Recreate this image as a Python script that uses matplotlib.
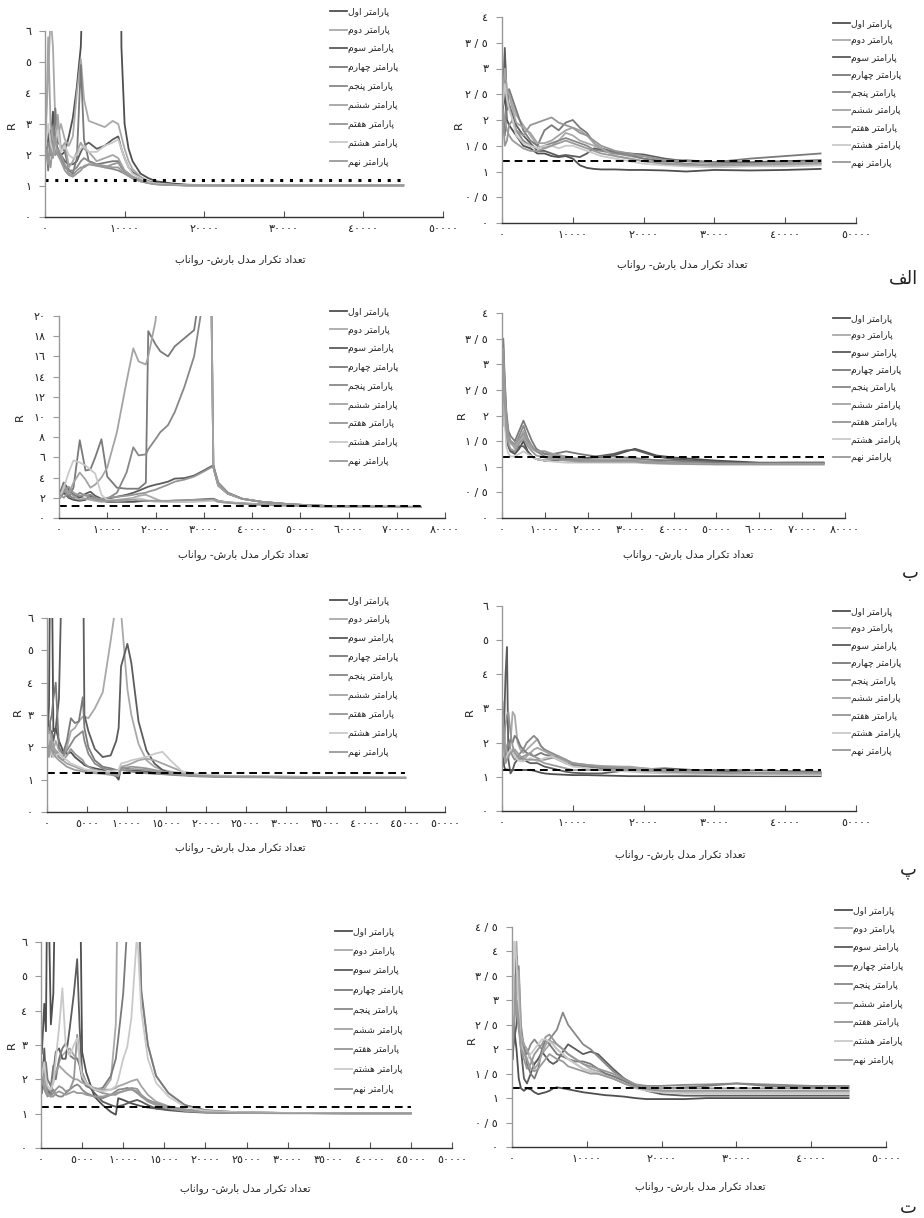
import matplotlib
matplotlib.use("Agg")
import matplotlib.pyplot as plt

plt.rcParams['font.family'] = ['DejaVu Sans']

# ---- data ----
LEGEND = ['پارامتر اول', 'پارامتر دوم', 'پارامتر سوم', 'پارامتر چهارم', 'پارامتر پنجم',
          'پارامتر ششم', 'پارامتر هفتم', 'پارامتر هشتم', 'پارامتر نهم']
XLABEL = 'تعداد تکرار مدل بارش- رواناب'
YLABEL = 'R'
PANEL_TAGS = ['الف', 'ب', 'پ', 'ت']
REF_R = 1.2

# panel 1 (الف, left)
p1_x = [100, 400, 700, 1000, 1300, 1600, 2000, 2500, 3000, 3500, 4000, 4500, 4900, 5500, 6500, 7500,
        8500, 9200, 9600, 10000, 10500, 11000, 12000, 13000, 14000, 16000, 18000, 22000, 30000, 38000, 45000]
p1_y = [
    [2.2, 2.8, 2.4, 3.4, 2.5, 2.2, 2.0, 2.1, 2.6, 3.2, 4.2, 5.5, 9, 30, 30, 30, 30, 30, 5.5, 3.0, 2.2, 1.8, 1.4, 1.25, 1.15, 1.08, 1.04, 1.02, 1.02, 1.03, 1.03],
    [3.0, 4.5, 6.5, 5.5, 3.0, 2.6, 3.0, 2.5, 2.3, 2.6, 4.0, 5.1, 3.8, 3.1, 3.0, 2.9, 3.1, 3.0, 2.6, 2.2, 1.8, 1.55, 1.3, 1.15, 1.08, 1.04, 1.02, 1.01, 1.02, 1.02, 1.02],
    [2.1, 2.6, 2.0, 2.6, 2.3, 2.2, 2.0, 1.8, 1.7, 1.7, 1.8, 2.1, 2.3, 2.4, 2.2, 2.3, 2.5, 2.6, 2.2, 1.9, 1.6, 1.45, 1.25, 1.15, 1.1, 1.05, 1.03, 1.02, 1.02, 1.02, 1.02],
    [2.5, 1.5, 2.8, 2.0, 3.5, 2.4, 2.3, 2.1, 1.5, 1.4, 1.9, 4.9, 2.5, 1.8, 1.7, 1.75, 1.8, 1.8, 1.6, 1.5, 1.4, 1.3, 1.2, 1.12, 1.07, 1.04, 1.02, 1.02, 1.02, 1.02, 1.02],
    [2.0, 2.4, 2.2, 2.9, 2.0, 2.1, 1.9, 1.6, 1.5, 1.5, 1.6, 1.8, 1.9, 1.8, 1.7, 1.6, 1.55, 1.5, 1.45, 1.4, 1.33, 1.25, 1.15, 1.1, 1.06, 1.04, 1.02, 1.02, 1.02, 1.02, 1.02],
    [2.4, 5.8, 3.0, 2.5, 2.3, 3.3, 2.2, 2.4, 1.6, 1.8, 2.1, 2.4, 2.2, 2.1, 1.8, 1.9, 2.0, 1.9, 1.7, 1.5, 1.4, 1.3, 1.18, 1.1, 1.06, 1.03, 1.02, 1.02, 1.02, 1.02, 1.02],
    [2.2, 2.0, 1.6, 2.4, 2.0, 2.2, 2.0, 1.7, 1.4, 1.35, 1.5, 1.6, 1.6, 1.7, 1.65, 1.6, 1.7, 1.75, 1.6, 1.45, 1.35, 1.27, 1.17, 1.1, 1.06, 1.03, 1.02, 1.02, 1.02, 1.02, 1.02],
    [2.3, 3.0, 2.4, 2.0, 2.3, 2.8, 2.1, 2.3, 2.0, 1.9, 2.0, 2.2, 2.3, 2.1, 2.1, 2.3, 2.4, 2.5, 2.2, 1.9, 1.6, 1.4, 1.25, 1.13, 1.08, 1.04, 1.02, 1.02, 1.02, 1.02, 1.02],
    [2.1, 1.7, 2.2, 1.9, 2.6, 2.0, 1.8, 1.5, 1.35, 1.3, 1.4, 1.5, 1.65, 1.7, 1.7, 1.65, 1.6, 1.6, 1.5, 1.4, 1.32, 1.25, 1.15, 1.09, 1.05, 1.03, 1.02, 1.02, 1.02, 1.02, 1.02],
]

# panel 2 (الف, right)
p2_x = [100, 400, 700, 1000, 1500, 2000, 3000, 4000, 5000, 6000, 7000, 8000, 9000, 10000, 11000, 12000,
        13000, 14000, 16000, 18000, 20000, 23000, 26000, 30000, 35000, 40000, 45000]
p2_y = [
    [2.2, 2.5, 2.0, 1.9, 1.8, 1.7, 1.5, 1.45, 1.35, 1.35, 1.3, 1.28, 1.3, 1.25, 1.12, 1.07, 1.05, 1.04, 1.04, 1.03, 1.03, 1.02, 1.0, 1.03, 1.02, 1.03, 1.05],
    [2.6, 3.3, 2.4, 2.5, 2.3, 2.1, 1.9, 1.7, 1.5, 1.45, 1.5, 1.6, 1.75, 1.7, 1.6, 1.55, 1.5, 1.45, 1.35, 1.3, 1.25, 1.18, 1.12, 1.1, 1.12, 1.12, 1.14],
    [2.0, 3.4, 2.2, 2.3, 2.1, 1.9, 1.7, 1.55, 1.4, 1.4, 1.35, 1.3, 1.32, 1.3, 1.28, 1.35, 1.45, 1.42, 1.38, 1.35, 1.33, 1.25, 1.2, 1.18, 1.18, 1.2, 1.22],
    [2.4, 1.7, 2.3, 2.6, 2.4, 2.2, 1.8, 1.6, 1.5, 1.8, 1.9, 1.8, 1.95, 2.0, 1.85, 1.75, 1.55, 1.45, 1.38, 1.32, 1.25, 1.2, 1.22, 1.18, 1.25, 1.3, 1.35],
    [2.3, 2.6, 2.5, 2.3, 2.0, 1.8, 1.6, 1.5, 1.45, 1.5, 1.55, 1.6, 1.65, 1.6, 1.55, 1.5, 1.42, 1.4, 1.35, 1.32, 1.3, 1.22, 1.15, 1.13, 1.15, 1.18, 1.2],
    [2.5, 3.0, 2.6, 2.5, 2.2, 1.95, 1.85, 1.75, 1.55, 1.55, 1.6, 1.7, 1.8, 1.85, 1.8, 1.7, 1.55, 1.45, 1.3, 1.25, 1.2, 1.15, 1.12, 1.1, 1.12, 1.13, 1.15],
    [2.1, 1.5, 1.6, 1.9, 2.0, 1.8, 1.7, 1.9, 1.95, 2.0, 2.05, 1.95, 1.9, 1.85, 1.75, 1.7, 1.6, 1.5, 1.4, 1.35, 1.3, 1.22, 1.2, 1.16, 1.15, 1.17, 1.2],
    [2.3, 2.7, 2.4, 2.2, 2.0, 1.7, 1.55, 1.5, 1.45, 1.5, 1.5, 1.45, 1.5, 1.5, 1.45, 1.4, 1.35, 1.3, 1.25, 1.2, 1.15, 1.12, 1.1, 1.08, 1.1, 1.1, 1.12],
    [2.2, 2.0, 1.8, 1.7, 1.6, 1.55, 1.45, 1.4, 1.4, 1.45, 1.5, 1.55, 1.6, 1.55, 1.5, 1.45, 1.4, 1.35, 1.3, 1.25, 1.2, 1.15, 1.13, 1.12, 1.13, 1.15, 1.17],
]

# panel 3 (ب, left)
p3_x = [200, 1000, 2000, 3000, 4300, 5500, 6500, 7500, 8800, 10000, 12000, 14000, 15400, 16500, 18000, 18500,
        20000, 21000, 22600, 24000, 26000, 28000, 30000, 31500, 32000, 33000, 35000, 38000, 42000, 48000,
        55000, 65000, 75000]
p3_y = [
    [2.0, 2.5, 2.0, 1.8, 1.7, 1.8, 2.2, 1.9, 1.7, 1.6, 1.6, 1.6, 1.6, 1.65, 1.7, 1.7, 1.7, 1.7, 1.65, 1.7, 1.75, 1.8, 1.85, 1.9, 1.9, 1.7, 1.55, 1.45, 1.35, 1.25, 1.15, 1.1, 1.08],
    [2.5, 3.0, 2.2, 2.0, 2.1, 1.9, 1.8, 1.7, 1.6, 1.7, 1.8, 1.9, 2.0, 2.2, 2.3, 2.2, 1.9, 1.7, 1.6, 1.6, 1.6, 1.65, 1.7, 1.75, 1.8, 1.7, 1.55, 1.45, 1.35, 1.25, 1.15, 1.1, 1.08],
    [2.5, 3.5, 2.8, 2.3, 2.0, 2.4, 2.6, 2.2, 1.9, 1.9, 2.1, 2.3, 2.5, 2.7, 3.0, 3.1, 3.3, 3.4, 3.6, 3.9, 3.95, 4.2, 4.7, 5.1, 5.2, 3.5, 2.5, 1.9, 1.6, 1.35, 1.2, 1.12, 1.1],
    [2.2, 3.5, 2.0, 3.0, 7.7, 4.7, 4.8, 6.0, 7.8, 4.1, 3.0, 2.9, 2.9, 2.9, 3.5, 18.5, 17.2, 16.5, 16.0, 17.0, 17.8, 18.6, 25, 25, 5.0, 3.2, 2.4, 1.9, 1.6, 1.35, 1.2, 1.12, 1.1],
    [2.0, 2.8, 2.3, 1.9, 2.5, 2.2, 2.3, 2.0, 1.8, 1.9, 2.5, 4.5, 7.0, 6.2, 6.3, 6.8, 7.8, 8.5, 9.2, 10.5, 13.0, 16.0, 22, 25, 5.0, 3.2, 2.4, 1.9, 1.6, 1.35, 1.2, 1.12, 1.1],
    [2.0, 3.2, 2.4, 3.5, 4.5, 3.8, 3.0, 3.3, 4.0, 5.0, 8.5, 13.5, 16.8, 15.5, 15.2, 16.0, 19.5, 25, 25, 25, 25, 25, 25, 25, 5.0, 3.2, 2.4, 1.9, 1.6, 1.35, 1.2, 1.12, 1.1],
    [2.1, 2.6, 3.1, 2.5, 2.2, 2.3, 2.0, 1.9, 1.9, 2.0, 2.1, 2.2, 2.3, 2.4, 2.5, 2.6, 2.8, 3.0, 3.3, 3.6, 3.8, 4.1, 4.6, 5.0, 5.1, 3.5, 2.5, 1.9, 1.6, 1.35, 1.2, 1.12, 1.1],
    [2.2, 3.0, 4.5, 5.7, 5.5, 5.2, 4.8, 4.4, 2.3, 1.8, 1.7, 1.75, 1.9, 1.95, 1.8, 1.7, 1.6, 1.6, 1.6, 1.6, 1.6, 1.6, 1.65, 1.7, 1.7, 1.6, 1.5, 1.4, 1.3, 1.2, 1.12, 1.08, 1.06],
    [2.3, 2.0, 2.6, 2.2, 1.8, 1.9, 2.0, 1.8, 1.7, 1.7, 1.75, 1.8, 1.8, 1.75, 1.7, 1.7, 1.7, 1.7, 1.7, 1.75, 1.75, 1.8, 1.8, 1.85, 1.85, 1.6, 1.5, 1.4, 1.3, 1.22, 1.14, 1.1, 1.08],
]

# panel 4 (ب, right)
p4_x = [100, 300, 600, 1000, 1500, 2000, 3000, 4000, 5000, 6000, 7000, 8000, 10000, 12000, 15000, 18000,
        22000, 26000, 29000, 31000, 33000, 36000, 40000, 45000, 50000, 55000, 60000, 67000, 75000]
p4_y = [
    [2.0, 3.0, 2.3, 1.5, 1.4, 1.3, 1.25, 1.35, 1.5, 1.3, 1.2, 1.15, 1.12, 1.12, 1.15, 1.15, 1.18, 1.22, 1.3, 1.35, 1.3, 1.22, 1.18, 1.15, 1.12, 1.1, 1.08, 1.08, 1.08],
    [2.3, 3.4, 2.6, 2.0, 1.6, 1.5, 1.35, 1.5, 1.6, 1.45, 1.35, 1.3, 1.25, 1.2, 1.18, 1.15, 1.15, 1.15, 1.15, 1.15, 1.14, 1.13, 1.12, 1.1, 1.08, 1.07, 1.06, 1.06, 1.06],
    [1.8, 2.8, 2.2, 1.6, 1.4, 1.3, 1.3, 1.4, 1.4, 1.3, 1.2, 1.15, 1.12, 1.12, 1.14, 1.15, 1.2, 1.25, 1.32, 1.33, 1.28, 1.2, 1.15, 1.12, 1.1, 1.08, 1.07, 1.07, 1.07],
    [2.5, 3.5, 2.8, 2.1, 1.7, 1.6, 1.5, 1.7, 1.9, 1.7, 1.5, 1.35, 1.25, 1.25, 1.3, 1.25, 1.2, 1.2, 1.18, 1.17, 1.15, 1.13, 1.12, 1.1, 1.08, 1.07, 1.07, 1.08, 1.08],
    [2.2, 3.2, 2.5, 1.9, 1.6, 1.5, 1.4, 1.6, 1.8, 1.55, 1.4, 1.3, 1.2, 1.18, 1.15, 1.12, 1.12, 1.12, 1.12, 1.12, 1.1, 1.1, 1.08, 1.08, 1.06, 1.06, 1.05, 1.05, 1.05],
    [2.1, 3.0, 2.4, 1.8, 1.5, 1.45, 1.4, 1.5, 1.7, 1.5, 1.35, 1.3, 1.3, 1.25, 1.2, 1.15, 1.12, 1.1, 1.1, 1.1, 1.1, 1.08, 1.07, 1.06, 1.05, 1.05, 1.05, 1.05, 1.05],
    [2.4, 3.3, 2.7, 2.0, 1.6, 1.5, 1.45, 1.55, 1.65, 1.5, 1.4, 1.3, 1.3, 1.22, 1.18, 1.15, 1.12, 1.1, 1.1, 1.1, 1.1, 1.08, 1.07, 1.06, 1.05, 1.05, 1.05, 1.05, 1.05],
    [1.9, 2.6, 2.0, 1.4, 1.25, 1.2, 1.2, 1.25, 1.3, 1.25, 1.2, 1.15, 1.12, 1.1, 1.08, 1.08, 1.08, 1.08, 1.08, 1.08, 1.07, 1.06, 1.05, 1.05, 1.04, 1.04, 1.04, 1.04, 1.04],
    [2.0, 2.9, 2.3, 1.7, 1.45, 1.35, 1.3, 1.45, 1.55, 1.4, 1.3, 1.22, 1.18, 1.15, 1.12, 1.1, 1.1, 1.1, 1.1, 1.1, 1.08, 1.07, 1.06, 1.05, 1.05, 1.05, 1.05, 1.05, 1.05],
]

# panel 5 (پ, left)
p5_x = [100, 250, 400, 600, 800, 1100, 1500, 2000, 2500, 3000, 3500, 4000, 4500, 4700, 5200, 6000, 7000,
        8000, 8700, 9000, 9300, 10100, 10600, 11500, 12500, 13500, 14500, 15500, 17000, 19000, 22000,
        28000, 36000, 45000]
p5_y = [
    [2.5, 3.3, 8, 8, 2.5, 2.6, 2.2, 1.9, 1.8, 1.85, 1.7, 1.6, 1.5, 1.45, 1.4, 1.35, 1.3, 1.2, 1.1, 1.0, 1.4, 1.35, 1.3, 1.28, 1.25, 1.22, 1.2, 1.18, 1.15, 1.12, 1.1, 1.08, 1.07, 1.06],
    [2.3, 1.8, 2.7, 2.0, 1.9, 2.2, 1.9, 1.8, 2.0, 2.5, 2.6, 2.8, 2.95, 2.95, 2.9, 3.2, 3.7, 5.3, 6.5, 8, 6.2, 3.8, 3.0, 2.1, 1.6, 1.4, 1.3, 1.25, 1.2, 1.15, 1.12, 1.1, 1.08, 1.07],
    [2.0, 2.6, 2.2, 2.5, 2.2, 2.6, 3.5, 9, 9, 9, 9, 9, 9, 3.0, 2.5, 1.95, 1.7, 1.75, 2.2, 2.6, 4.5, 5.2, 4.6, 2.8, 1.9, 1.5, 1.3, 1.2, 1.15, 1.12, 1.1, 1.08, 1.06, 1.05],
    [2.2, 2.0, 2.8, 3.0, 3.5, 4.0, 2.0, 1.8, 2.2, 2.9, 2.75, 2.8, 3.55, 2.6, 2.0, 1.6, 1.4, 1.35, 1.3, 1.3, 1.3, 1.28, 1.26, 1.24, 1.22, 1.2, 1.2, 1.18, 1.15, 1.12, 1.1, 1.08, 1.06, 1.05],
    [2.0, 2.3, 1.9, 2.4, 2.0, 1.9, 1.8, 1.7, 1.9, 2.1, 2.3, 2.4, 2.5, 2.2, 1.8, 1.5, 1.35, 1.3, 1.3, 1.3, 1.3, 1.28, 1.25, 1.22, 1.2, 1.18, 1.17, 1.15, 1.13, 1.1, 1.08, 1.07, 1.06, 1.05],
    [2.6, 2.0, 2.5, 2.2, 2.0, 1.9, 1.7, 1.6, 1.5, 1.45, 1.4, 1.35, 1.3, 1.3, 1.28, 1.25, 1.22, 1.2, 1.2, 1.2, 1.4, 1.45, 1.5, 1.6, 1.65, 1.6, 1.5, 1.4, 1.25, 1.15, 1.1, 1.08, 1.06, 1.05],
    [1.8, 2.2, 2.0, 1.7, 1.9, 1.8, 1.7, 1.6, 1.75, 1.95, 1.8, 1.7, 1.6, 1.5, 1.4, 1.3, 1.25, 1.2, 1.15, 1.15, 1.35, 1.38, 1.4, 1.38, 1.35, 1.3, 1.25, 1.2, 1.15, 1.12, 1.1, 1.08, 1.06, 1.05],
    [2.1, 2.4, 2.0, 1.8, 1.7, 1.75, 1.8, 1.7, 1.6, 1.5, 1.45, 1.4, 1.35, 1.32, 1.3, 1.28, 1.25, 1.25, 1.28, 1.3, 1.5, 1.55, 1.6, 1.65, 1.7, 1.8, 1.86, 1.6, 1.25, 1.18, 1.12, 1.1, 1.07, 1.06],
    [2.0, 1.7, 2.2, 1.9, 1.8, 1.7, 1.6, 1.5, 1.4, 1.35, 1.3, 1.28, 1.25, 1.25, 1.22, 1.2, 1.18, 1.15, 1.12, 1.12, 1.3, 1.32, 1.33, 1.32, 1.3, 1.27, 1.25, 1.2, 1.15, 1.12, 1.1, 1.08, 1.06, 1.05],
]

# panel 6 (پ, right)
p6_x = [100, 300, 500, 700, 900, 1200, 1500, 1800, 2200, 2600, 3000, 3500, 4000, 4500, 5000, 5500, 6000,
        7000, 8000, 9000, 10000, 12000, 14000, 16000, 18000, 20000, 23000, 27000, 32000, 38000, 45000]
p6_y = [
    [1.8, 1.3, 1.2, 1.22, 1.2, 1.2, 1.2, 1.2, 1.2, 1.2, 1.2, 1.2, 1.2, 1.18, 1.15, 1.12, 1.1, 1.08, 1.07, 1.06, 1.05, 1.05, 1.04, 1.03, 1.02, 1.02, 1.02, 1.02, 1.02, 1.02, 1.02],
    [3.2, 2.5, 1.8, 1.5, 1.6, 2.0, 2.9, 2.8, 2.0, 1.8, 1.7, 1.8, 1.9, 2.0, 2.1, 1.9, 1.8, 1.6, 1.5, 1.4, 1.35, 1.3, 1.3, 1.3, 1.3, 1.25, 1.2, 1.15, 1.12, 1.1, 1.1],
    [1.5, 2.5, 4.0, 4.8, 1.5, 1.1, 1.2, 1.4, 1.5, 1.55, 1.5, 1.45, 1.4, 1.4, 1.4, 1.35, 1.3, 1.25, 1.2, 1.15, 1.12, 1.1, 1.1, 1.15, 1.2, 1.22, 1.25, 1.2, 1.15, 1.1, 1.1],
    [2.2, 2.0, 1.6, 1.8, 1.9, 2.1, 2.0, 2.2, 2.1, 1.9, 1.8, 1.7, 1.65, 1.6, 1.65, 1.7, 1.65, 1.6, 1.5, 1.4, 1.35, 1.3, 1.25, 1.25, 1.2, 1.2, 1.2, 1.2, 1.2, 1.18, 1.15],
    [2.5, 1.9, 1.7, 1.9, 2.0, 1.8, 1.6, 1.5, 1.6, 1.7, 1.8, 2.0, 2.1, 2.2, 2.1, 1.9, 1.8, 1.7, 1.6, 1.5, 1.4, 1.32, 1.28, 1.25, 1.2, 1.18, 1.15, 1.12, 1.1, 1.08, 1.08],
    [2.8, 2.2, 1.9, 1.7, 1.6, 1.7, 1.8, 1.7, 1.6, 1.5, 1.5, 1.6, 1.7, 1.8, 1.85, 1.8, 1.75, 1.65, 1.55, 1.45, 1.4, 1.35, 1.32, 1.3, 1.28, 1.25, 1.2, 1.15, 1.1, 1.08, 1.07],
    [2.6, 2.1, 2.5, 2.8, 2.9, 2.3, 1.9, 1.7, 1.6, 1.55, 1.6, 1.65, 1.7, 1.6, 1.55, 1.5, 1.5, 1.55, 1.6, 1.5, 1.4, 1.35, 1.3, 1.28, 1.25, 1.2, 1.18, 1.15, 1.12, 1.1, 1.1],
    [2.0, 1.6, 1.5, 1.6, 1.7, 1.8, 1.7, 1.6, 1.5, 1.45, 1.45, 1.5, 1.55, 1.5, 1.45, 1.5, 1.55, 1.6, 1.5, 1.4, 1.3, 1.25, 1.2, 1.18, 1.15, 1.12, 1.1, 1.08, 1.06, 1.05, 1.05],
    [2.3, 1.8, 1.4, 1.5, 1.6, 1.7, 1.75, 1.8, 1.7, 1.6, 1.55, 1.5, 1.5, 1.5, 1.5, 1.45, 1.4, 1.35, 1.3, 1.25, 1.2, 1.2, 1.2, 1.2, 1.2, 1.18, 1.15, 1.12, 1.1, 1.1, 1.1],
]

# panel 7 (ت, left)
p7_x = [100, 400, 600, 800, 1200, 1500, 1800, 2200, 2600, 3000, 3500, 4000, 4400, 4700, 5000, 5500, 6500,
        7500, 8500, 9100, 9400, 10000, 10500, 11000, 11700, 12200, 13000, 14000, 15500, 17500, 20000,
        24000, 30000, 38000, 45000]
p7_y = [
    [2.75, 4.2, 3.4, 9, 3.6, 4.5, 9, 9, 9, 9, 9, 9, 9, 9, 2.8, 2.2, 1.5, 1.25, 1.05, 0.97, 1.45, 1.4, 1.35, 1.3, 1.25, 1.22, 1.18, 1.15, 1.12, 1.08, 1.05, 1.03, 1.02, 1.02, 1.02],
    [2.5, 2.2, 1.8, 1.6, 1.7, 1.9, 2.2, 2.5, 2.7, 2.8, 2.9, 2.7, 2.6, 2.5, 2.1, 1.9, 1.7, 1.65, 2.0, 3.6, 9, 9, 9, 9, 9, 4.5, 3.0, 2.1, 1.6, 1.25, 1.1, 1.04, 1.02, 1.01, 1.01],
    [1.6, 2.9, 2.0, 1.7, 1.5, 2.2, 2.8, 2.9, 2.6, 2.6, 3.5, 4.5, 5.5, 3.5, 2.2, 1.9, 1.6, 1.35, 1.25, 1.2, 1.22, 1.25, 1.3, 1.35, 1.4, 1.35, 1.25, 1.15, 1.1, 1.06, 1.03, 1.02, 1.02, 1.02, 1.02],
    [2.3, 1.9, 2.5, 2.0, 1.8, 2.4, 2.0, 2.6, 2.9, 3.05, 2.7, 2.6, 2.6, 2.4, 2.0, 1.8, 1.7, 1.75, 2.1, 2.6, 3.2, 4.5, 6.5, 9, 9, 4.6, 3.0, 2.1, 1.6, 1.25, 1.1, 1.04, 1.02, 1.01, 1.01],
    [2.0, 1.7, 1.6, 1.5, 1.6, 1.7, 1.55, 1.5, 1.5, 1.6, 1.7, 1.8, 1.85, 1.8, 1.7, 1.6, 1.5, 1.45, 1.55, 1.65, 1.7, 1.72, 1.75, 1.72, 1.6, 1.5, 1.4, 1.3, 1.2, 1.12, 1.06, 1.03, 1.02, 1.01, 1.01],
    [2.2, 2.0, 1.8, 1.7, 1.7, 2.0, 2.2, 2.4, 2.3, 2.2, 2.1, 2.0, 2.0, 1.95, 1.9, 1.85, 1.75, 1.7, 1.7, 1.75, 1.8, 1.85, 1.9, 1.95, 2.0, 1.8, 1.55, 1.35, 1.22, 1.12, 1.06, 1.03, 1.02, 1.01, 1.01],
    [1.9, 2.4, 2.0, 1.6, 1.5, 1.6, 1.7, 1.8, 1.75, 1.65, 1.7, 2.0, 3.3, 2.6, 2.2, 1.9, 1.7, 1.6, 1.55, 1.55, 1.6, 1.65, 1.7, 1.75, 1.72, 1.55, 1.4, 1.3, 1.2, 1.12, 1.06, 1.03, 1.02, 1.01, 1.01],
    [2.1, 2.5, 2.0, 1.8, 1.7, 1.9, 2.6, 3.5, 4.65, 3.0, 2.7, 3.0, 3.2, 2.5, 2.1, 1.9, 1.7, 1.65, 1.7, 1.8, 2.0, 2.6, 2.95, 3.8, 6.3, 4.0, 2.6, 1.9, 1.5, 1.2, 1.08, 1.04, 1.02, 1.01, 1.01],
    [2.0, 1.8, 1.6, 1.55, 1.5, 1.5, 1.6, 1.65, 1.6, 1.55, 1.6, 1.65, 1.6, 1.6, 1.6, 1.55, 1.5, 1.5, 1.55, 1.6, 1.62, 1.65, 1.68, 1.7, 1.65, 1.5, 1.35, 1.25, 1.15, 1.08, 1.04, 1.02, 1.01, 1.01, 1.01],
]

# panel 8 (ت, right)
p8_x = [100, 300, 600, 900, 1200, 1600, 2000, 2500, 3000, 3500, 4000, 4500, 5000, 5500, 6000, 6800, 7500,
        8500, 9500, 10500, 11500, 12500, 13500, 15000, 16500, 18000, 20000, 23000, 26000, 30000, 34000,
        40000, 45000]
p8_y = [
    [1.8, 2.4, 2.0, 1.4, 1.2, 1.15, 1.2, 1.18, 1.12, 1.08, 1.1, 1.12, 1.15, 1.2, 1.22, 1.2, 1.18, 1.15, 1.12, 1.1, 1.08, 1.06, 1.05, 1.03, 1.0, 0.98, 0.98, 0.98, 1.0, 1.0, 1.0, 1.0, 1.0],
    [2.2, 2.8, 4.2, 3.0, 2.2, 1.9, 2.0, 1.8, 1.7, 1.8, 1.9, 2.0, 2.1, 2.15, 2.1, 2.0, 1.9, 1.8, 1.7, 1.6, 1.55, 1.5, 1.45, 1.35, 1.25, 1.18, 1.15, 1.12, 1.1, 1.1, 1.1, 1.1, 1.1],
    [2.0, 2.2, 2.5, 3.0, 2.0, 1.4, 1.3, 1.5, 1.7, 1.8, 1.95, 1.85, 1.75, 1.7, 1.75, 1.95, 2.1, 2.0, 1.9, 1.95, 1.9, 1.75, 1.6, 1.4, 1.25, 1.15, 1.08, 1.05, 1.05, 1.05, 1.05, 1.05, 1.05],
    [1.9, 2.5, 3.9, 3.0, 2.3, 2.1, 1.7, 1.5, 1.4, 1.6, 2.0, 2.2, 2.1, 2.0, 1.9, 1.85, 1.8, 1.75, 1.75, 1.7, 1.6, 1.5, 1.45, 1.35, 1.25, 1.2, 1.2, 1.22, 1.25, 1.3, 1.25, 1.22, 1.22],
    [2.3, 3.0, 3.5, 3.7, 2.5, 2.0, 1.9, 2.1, 2.2, 2.1, 2.0, 2.1, 2.2, 2.3, 2.4, 2.75, 2.5, 2.3, 2.1, 2.0, 1.85, 1.7, 1.55, 1.4, 1.28, 1.25, 1.25, 1.27, 1.28, 1.3, 1.28, 1.25, 1.25],
    [2.4, 2.7, 3.2, 3.6, 2.3, 2.1, 2.0, 1.8, 1.6, 1.7, 1.9, 2.1, 2.2, 2.1, 2.0, 1.9, 1.8, 1.7, 1.6, 1.55, 1.5, 1.45, 1.4, 1.3, 1.22, 1.18, 1.15, 1.15, 1.15, 1.15, 1.15, 1.15, 1.15],
    [2.1, 3.5, 2.8, 2.4, 2.0, 1.8, 1.6, 1.7, 1.9, 2.0, 2.1, 2.25, 2.3, 2.2, 2.1, 2.0, 1.9, 1.8, 1.7, 1.65, 1.6, 1.55, 1.5, 1.38, 1.28, 1.22, 1.2, 1.2, 1.2, 1.2, 1.2, 1.2, 1.2],
    [2.5, 4.2, 3.8, 2.8, 2.1, 1.9, 1.8, 1.9, 2.0, 2.1, 2.2, 2.2, 2.15, 2.1, 2.0, 1.9, 1.8, 1.7, 1.6, 1.55, 1.5, 1.45, 1.4, 1.3, 1.2, 1.15, 1.12, 1.1, 1.1, 1.1, 1.1, 1.1, 1.1],
    [2.2, 2.6, 3.0, 2.6, 2.0, 1.9, 1.8, 1.6, 1.55, 1.6, 1.7, 1.8, 1.9, 1.85, 1.8, 1.75, 1.65, 1.6, 1.55, 1.5, 1.5, 1.45, 1.4, 1.3, 1.22, 1.18, 1.15, 1.15, 1.15, 1.15, 1.15, 1.15, 1.15],
]

# ---- styling ----
COLORS = ['#4f4f4f', '#a9a9a9', '#5c5c5c', '#7a7a7a', '#888888', '#a4a4a4', '#969696', '#c9c9c9', '#9a9a9a']
W, H = 924, 1218

# Arabic presentation forms: isolated, final, initial, medial
FORMS = {
    'ا': ('\uFE8D', '\uFE8E', None, None), 'ب': ('\uFE8F', '\uFE90', '\uFE91', '\uFE92'),
    'پ': ('\uFB56', '\uFB57', '\uFB58', '\uFB59'), 'ت': ('\uFE95', '\uFE96', '\uFE97', '\uFE98'),
    'ج': ('\uFE9D', '\uFE9E', '\uFE9F', '\uFEA0'), 'چ': ('\uFB7A', '\uFB7B', '\uFB7C', '\uFB7D'),
    'د': ('\uFEA9', '\uFEAA', None, None), 'ر': ('\uFEAD', '\uFEAE', None, None),
    'س': ('\uFEB1', '\uFEB2', '\uFEB3', '\uFEB4'), 'ش': ('\uFEB5', '\uFEB6', '\uFEB7', '\uFEB8'),
    'ع': ('\uFEC9', '\uFECA', '\uFECB', '\uFECC'), 'ف': ('\uFED1', '\uFED2', '\uFED3', '\uFED4'),
    'ک': ('\uFB8E', '\uFB8F', '\uFB90', '\uFB91'), 'ل': ('\uFEDD', '\uFEDE', '\uFEDF', '\uFEE0'),
    'م': ('\uFEE1', '\uFEE2', '\uFEE3', '\uFEE4'), 'ن': ('\uFEE5', '\uFEE6', '\uFEE7', '\uFEE8'),
    'ه': ('\uFEE9', '\uFEEA', '\uFEEB', '\uFEEC'), 'و': ('\uFEED', '\uFEEE', None, None),
}


def shape(text):
    # join letters and flip to visual order (matplotlib has no RTL layout)
    out = []
    for i, ch in enumerate(text):
        if ch not in FORMS:
            out.append(ch)
            continue
        prev = text[i - 1] if i > 0 else ''
        nxt = text[i + 1] if i + 1 < len(text) else ''
        jp = prev in FORMS and FORMS[prev][2] is not None
        jn = FORMS[ch][2] is not None and nxt in FORMS
        iso, fin, ini, med = FORMS[ch]
        out.append(med if (jp and jn) else fin if jp else ini if jn else iso)
    return ''.join(reversed(out))


def fa(v):
    digits = str.maketrans('0123456789', '٠١٢٣٤٥٦٧٨٩')
    if abs(v - round(v)) < 1e-9:
        return str(int(round(v))).translate(digits)
    return (str(int(v)) + ' / 5').translate(digits)


def draw_panel(x, ys, rect, ymax, ystep, xmax, xstep, ref_ls, leg_xy, leg_sp, rlab_xy, xlab_xy):
    l, t, r, b = rect
    ax = fig.add_axes([l / W, 1 - b / H, (r - l) / W, (b - t) / H])
    handles = []
    for k, y in enumerate(ys):
        h, = ax.plot(x, y, color=COLORS[k], lw=1.3)
        handles.append(h)
    if ref_ls == ':':
        ax.hlines(REF_R, 0, x[-1], colors='black', linestyles=(0, (1, 2.2)), lw=2.2)
    else:
        ax.hlines(REF_R, 0, x[-1], colors='black', linestyles=(0, (4, 2.5)), lw=1.4)
    ax.set_xlim(0, xmax)
    ax.set_ylim(0, ymax)
    nx_ = int(round(xmax / xstep))
    ny_ = int(round(ymax / ystep))
    xt = [i * xstep for i in range(nx_ + 1)]
    yt = [i * ystep for i in range(ny_ + 1)]
    ax.set_xticks(xt)
    ax.set_xticklabels([fa(v) for v in xt])
    ax.set_yticks(yt)
    ax.set_yticklabels([fa(v) for v in yt])
    for s in ['top', 'right']:
        ax.spines[s].set_visible(False)
    ax.spines['left'].set_color('#999999')
    ax.spines['bottom'].set_color('#333333')
    ax.spines['left'].set_linewidth(1.0)
    ax.spines['bottom'].set_linewidth(1.0)
    ax.tick_params(axis='both', labelsize=8, width=0.8, labelcolor='#222222')
    ax.tick_params(axis='y', length=4, direction='out', color='#999999', pad=6)
    ax.tick_params(axis='x', length=4, direction='in', color='#555555', pad=5)
    ax.legend(handles, [shape(s) for s in LEGEND], loc='upper left',
              bbox_to_anchor=(leg_xy[0] / W, 1 - leg_xy[1] / H), bbox_transform=fig.transFigure,
              frameon=False, fontsize=6.6, handlelength=1.9, handletextpad=0.1,
              labelspacing=leg_sp, borderpad=0, borderaxespad=0, labelcolor='#222222')
    fig.text(rlab_xy[0] / W, 1 - rlab_xy[1] / H, YLABEL, rotation=90, ha='center', va='center',
             fontsize=8, color='#222222')
    fig.text(xlab_xy[0] / W, 1 - xlab_xy[1] / H, shape(XLABEL), ha='center', va='center',
             fontsize=7.5, color='#222222')
    return ax


fig = plt.figure(figsize=(W / 100, H / 100), dpi=100)

draw_panel(p1_x, p1_y, (45, 31, 443, 217), 6, 1, 50000, 10000, ':', (330, 7), 1.06, (12, 125), (240, 260))
draw_panel(p2_x, p2_y, (502, 17, 856, 223), 4, 0.5, 50000, 10000, '--', (833, 19), 0.91, (459, 125), (682, 265))
draw_panel(p3_x, p3_y, (59, 316, 445, 518), 20, 2, 80000, 10000, '--', (330, 307), 1.05, (20, 417), (243, 555))
draw_panel(p4_x, p4_y, (502, 313, 845, 518), 4, 0.5, 80000, 10000, '--', (833, 314), 0.9, (462, 415), (688, 555))
draw_panel(p5_x, p5_y, (47, 618, 445, 812), 6, 1, 50000, 5000, '--', (330, 596), 1.08, (18, 712), (240, 848))
draw_panel(p6_x, p6_y, (502, 606, 856, 811), 6, 1, 50000, 10000, '--', (833, 607), 0.91, (470, 712), (680, 855))
draw_panel(p7_x, p7_y, (41, 942, 452, 1148), 6, 1, 50000, 5000, '--', (335, 927), 1.16, (12, 1045), (245, 1189))
draw_panel(p8_x, p8_y, (512, 927, 886, 1147), 4.5, 0.5, 50000, 10000, '--', (835, 906), 1.05, (472, 1040), (700, 1187))

for tag, (tx, ty) in zip(PANEL_TAGS, [(903, 278), (910, 573), (908, 870), (908, 1208)]):
    fig.text(tx / W, 1 - ty / H, shape(tag), ha='center', va='center', fontsize=13, color='#222222')

fig.savefig('out.png', dpi=100)
